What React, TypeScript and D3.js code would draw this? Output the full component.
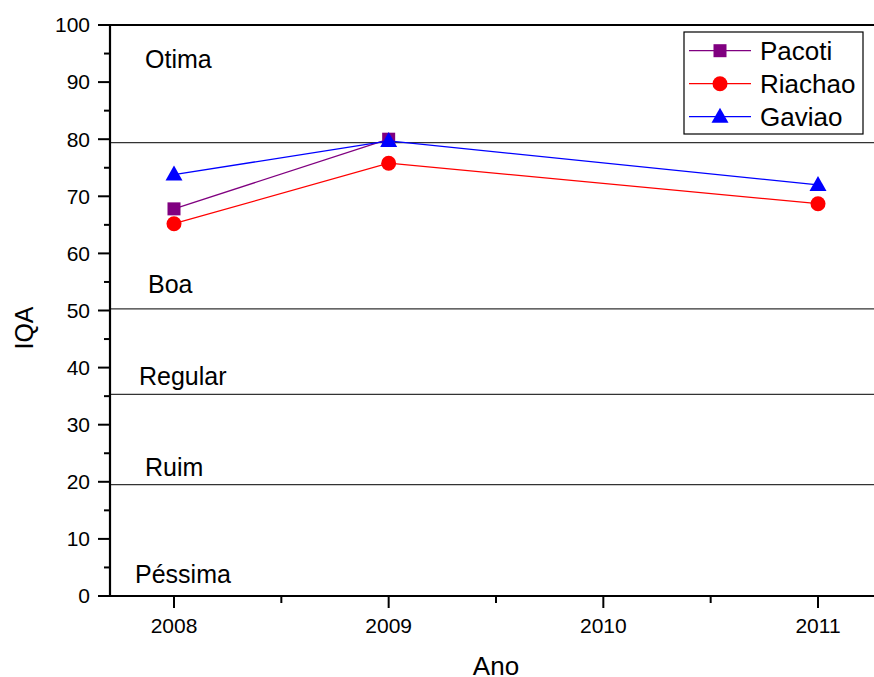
import React from "react";
import * as d3 from "d3";

const years = [2008, 2009, 2010, 2011];
const pacotiYears = [2008, 2009];
const pacotiValues = [67.8, 80.0];
const riachaoYears = [2008, 2009, 2011];
const riachaoValues = [65.2, 75.8, 68.7];
const gaviaoYears = [2008, 2009, 2011];
const gaviaoValues = [73.8, 79.7, 72.0];
const yTicks = [0, 10, 20, 30, 40, 50, 60, 70, 80, 90, 100];
const classLines = [79.4, 50.3, 35.3, 19.5];
const classLabels = ["Otima", "Boa", "Regular", "Ruim", "Péssima"];
const classLabelValues = [92.5, 53, 37, 21, 2.2];
const classLabelX = [145, 148, 139, 145, 135];

const font = "Arial, 'Liberation Sans', Helvetica, sans-serif";

export default function App() {
  const W = 874, H = 677;
  const left = 110, top = 25, bottom = 596;
  const x = d3.scaleLinear().domain([2008, 2011]).range([174, 818]);
  const xRight = x(2011.35);
  const y = d3.scaleLinear().domain([0, 100]).range([bottom, top]);

  const series = [
    { name: "Pacoti", color: "#800080", xs: pacotiYears, vs: pacotiValues, marker: "square" },
    { name: "Riachao", color: "#ff0000", xs: riachaoYears, vs: riachaoValues, marker: "circle" },
    { name: "Gaviao", color: "#0000ff", xs: gaviaoYears, vs: gaviaoValues, marker: "triangle" },
  ];

  const line = d3.line<[number, number]>().x(d => x(d[0])).y(d => y(d[1]));

  const marker = (type: string, cx: number, cy: number, color: string, key: string) => {
    if (type === "square") return <rect key={key} x={cx - 6.5} y={cy - 6.5} width={13} height={13} fill={color} />;
    if (type === "circle") return <circle key={key} cx={cx} cy={cy} r={7.5} fill={color} />;
    return <path key={key} d={`M${cx},${cy - 9} L${cx + 8.5},${cy + 6} L${cx - 8.5},${cy + 6} Z`} fill={color} />;
  };

  const minorY = d3.range(5, 100, 10);
  const minorX = [2007.5, 2008.5, 2009.5, 2010.5];

  return (
    <svg width={W} height={H} style={{ position: "absolute", left: 0, top: 0, background: "#fff" }} fontFamily={font}>
      <rect x={0} y={0} width={W} height={H} fill="#fff" />
      {classLines.map((v, i) => (
        <line key={"cl" + i} x1={left} x2={W} y1={y(v)} y2={y(v)} stroke="#333" strokeWidth={1.2} />
      ))}
      {classLabels.map((t, i) => (
        <text key={"lb" + i} x={classLabelX[i]} y={y(classLabelValues[i])} fontSize={25} fill="#000">{t}</text>
      ))}
      {series.map(s => (
        <g key={s.name}>
          <path d={line(s.xs.map((xx, i) => [xx, s.vs[i]] as [number, number])) || ""} fill="none" stroke={s.color} strokeWidth={1.3} />
          {s.xs.map((xx, i) => marker(s.marker, x(xx), y(s.vs[i]), s.color, s.name + i))}
        </g>
      ))}
      <line x1={left} x2={left} y1={top - 1} y2={bottom + 1} stroke="#000" strokeWidth={2.2} />
      <line x1={left - 1} x2={xRight} y1={bottom} y2={bottom} stroke="#000" strokeWidth={2.2} />
      <line x1={left - 1} x2={xRight} y1={top} y2={top} stroke="#000" strokeWidth={2.2} />
      {yTicks.map(v => (
        <g key={"yt" + v}>
          <line x1={left - 12} x2={left} y1={y(v)} y2={y(v)} stroke="#000" strokeWidth={2} />
          <text x={left - 20} y={y(v)} dy="0.35em" textAnchor="end" fontSize={21}>{v}</text>
        </g>
      ))}
      {minorY.map(v => (
        <line key={"ym" + v} x1={left - 6} x2={left} y1={y(v)} y2={y(v)} stroke="#000" strokeWidth={2} />
      ))}
      {years.map(v => (
        <g key={"xt" + v}>
          <line x1={x(v)} x2={x(v)} y1={bottom} y2={bottom + 12} stroke="#000" strokeWidth={2} />
          <text x={x(v)} y={633} textAnchor="middle" fontSize={21}>{v}</text>
        </g>
      ))}
      {minorX.filter(v => x(v) > left).map(v => (
        <line key={"xm" + v} x1={x(v)} x2={x(v)} y1={bottom} y2={bottom + 7} stroke="#000" strokeWidth={2} />
      ))}
      <text x={496} y={675} textAnchor="middle" fontSize={26}>Ano</text>
      <text transform={`translate(33,328) rotate(-90)`} textAnchor="middle" fontSize={25}>IQA</text>
      <rect x={684} y={32} width={179} height={102} fill="#fff" stroke="#000" strokeWidth={1.2} />
      {series.map((s, i) => {
        const cy = 50.7 + i * 33;
        return (
          <g key={"lg" + s.name}>
            <line x1={689} x2={751} y1={cy} y2={cy} stroke={s.color} strokeWidth={1.3} />
            {marker(s.marker, 720, cy, s.color, "lm" + i)}
            <text x={760} y={cy} dy="0.36em" fontSize={26}>{s.name}</text>
          </g>
        );
      })}
    </svg>
  );
}
